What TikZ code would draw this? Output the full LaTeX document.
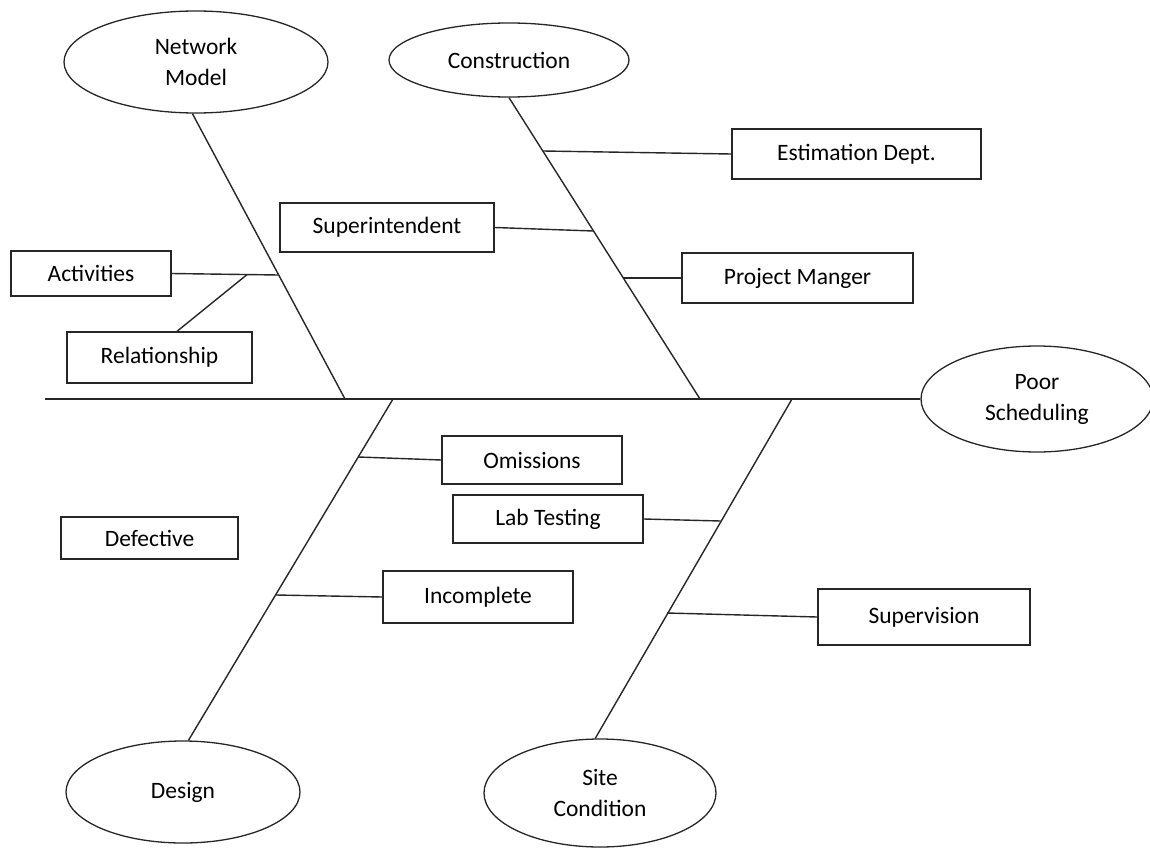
\documentclass[tikz,border=0pt]{standalone}
\usepackage{fontspec}
\setmainfont{Carlito}
\usetikzlibrary{shapes.geometric}
\begin{document}
\begin{tikzpicture}[x=1pt,y=-1pt,
  line/.style={draw=black!85, line width=1.4pt},
  cause/.style={ellipse, draw=black!85, line width=1.3pt, inner sep=0pt,
    align=center, font=\fontsize{23.5}{31}\selectfont},
  item/.style={rectangle, draw=black!85, line width=1.3pt, inner sep=0pt,
    font=\fontsize{23.5}{28}\selectfont},
]
\useasboundingbox (0,0) rectangle (1150,848);

% main categories and the effect
\node[cause, minimum width=264pt, minimum height=102pt] (nm) at (196,62) {Network\\Model};
\node[cause, minimum width=240pt, minimum height=74pt] (con) at (509,60) {Construction};
\node[cause, minimum width=232pt, minimum height=106pt] (ps) at (1037,399) {Poor\\Scheduling};
\node[cause, minimum width=234pt, minimum height=102pt] (des) at (183,792) {Design};
\node[cause, minimum width=232pt, minimum height=108pt] (site) at (600,793) {Site\\Condition};

% individual causes
\node[item, minimum width=249pt, minimum height=50pt] (est) at (856.5,154) {Estimation Dept.};
\node[item, minimum width=214pt, minimum height=49pt] (sup) at (387,227.5) {Superintendent};
\node[item, minimum width=231pt, minimum height=50pt] (pm) at (797.5,278) {Project Manger};
\node[item, minimum width=160pt, minimum height=45pt] (act) at (91,273.5) {Activities};
\node[item, minimum width=185pt, minimum height=51pt] (rel) at (159.5,357.5) {Relationship};
\node[item, minimum width=180pt, minimum height=48pt] (om) at (532,460) {Omissions};
\node[item, minimum width=190pt, minimum height=48pt] (lab) at (548,519) {Lab Testing};
\node[item, minimum width=177pt, minimum height=42pt] (def) at (149.5,538) {Defective};
\node[item, minimum width=190pt, minimum height=52pt] (inc) at (478,597) {Incomplete};
\node[item, minimum width=212pt, minimum height=56pt] (supv) at (924,617) {Supervision};

% spine and bone end points
\coordinate (tail) at (45,399);
\coordinate (nmS) at (345,399);
\coordinate (desS) at (393,399);
\coordinate (conS) at (700,399);
\coordinate (siteS) at (792,399);

% branch points on the bones
\coordinate (jAct) at (278.7,275);
\coordinate (jRel) at (247,274.6);
\coordinate (jEst) at (543,151);
\coordinate (jSup) at (593,231);
\coordinate (jPm) at (623,278);
\coordinate (jOm) at (358.5,457);
\coordinate (jInc) at (276,595);
\coordinate (jLab) at (720.5,521);
\coordinate (jSupv) at (667,613);

% spine
\draw[line] (tail) -- (ps.west);

% bones
\draw[line] (nm.266) -- (nmS);
\draw[line] (con.south) -- (conS);
\draw[line] (desS) -- (des.84);
\draw[line] (siteS) -- (site.95);

% branches
\draw[line] (act.east) -- (jAct);
\draw[line] (rel.north -| 177,0) -- (jRel);
\draw[line] (jEst) -- (est.west);
\draw[line] (sup.east) -- (jSup);
\draw[line] (jPm) -- (pm.west);
\draw[line] (jOm) -- (om.west);
\draw[line] (jInc) -- (inc.west);
\draw[line] (lab.east) -- (jLab);
\draw[line] (jSupv) -- (supv.west);
\end{tikzpicture}
\end{document}
